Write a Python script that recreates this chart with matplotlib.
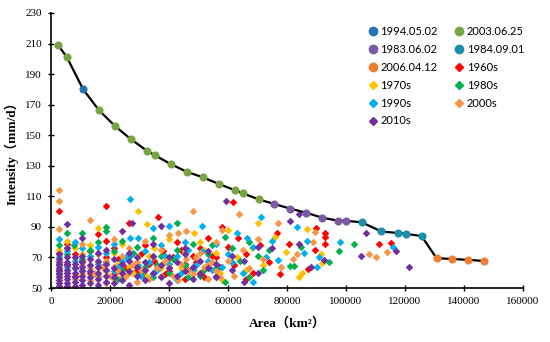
import matplotlib
matplotlib.use("Agg")
import matplotlib.pyplot as plt
from matplotlib.lines import Line2D

# envelope events (area km2, intensity mm/d)
ev_1994_x = [10900]
ev_1994_y = [180]
ev_2003_x = [2400, 5400, 16200, 21700, 27000, 32400, 35100, 40700, 46100, 51400, 57000, 62400, 65000, 70400]
ev_2003_y = [209, 201, 166.5, 156, 147.5, 140, 137, 131, 126, 122.5, 118, 114, 112, 108]
ev_1983_x = [75700, 81000, 86400, 92000, 97400, 100000]
ev_1983_y = [105, 102, 99.3, 96, 94, 94]
ev_1984_x = [105300, 112000, 117500, 120200, 125600]
ev_1984_y = [93, 87, 86, 85.5, 84]
ev_2006_x = [130700, 136000, 141500, 146900]
ev_2006_y = [69.5, 69, 68.4, 67.7]

# decade samples
d1960_x = [2700, 2700, 2700, 5300, 5300, 8000, 8000, 10600, 13300, 13300, 16000, 16000, 18600, 18600, 18600,
           21300, 21300, 24000, 26500, 26500, 29300, 32000, 32000, 36200, 35000, 38000, 40000, 42600, 45300, 45300,
           48000, 50600, 50600, 53300, 53300, 56000, 56000, 58000, 61600, 60000, 63300, 62000, 66000, 66000, 68600,
           71000, 74000, 76500, 77600, 80800, 87200, 89700, 89500, 92900, 92900, 92900, 111300, 115200,
           22600, 25300, 30600, 33300, 38600, 41300, 44000, 46600, 49300, 52000, 54600, 57300]
d1960_y = [100.6, 62, 73, 66, 79, 72, 58, 68, 74, 60, 85.5, 64, 103.7, 70, 81,
           59, 76, 66, 92.4, 71, 62, 78, 57, 96.7, 68, 74, 61, 80, 66, 56,
           71, 76, 60, 64, 83, 58, 70, 90, 106.3, 77, 83, 65, 72, 56, 60,
           78, 67, 85.8, 59, 79, 62.3, 89, 75, 86.2, 83.6, 79, 78.6, 79.7,
           69, 63, 72, 66, 59, 70, 75, 62, 67, 57, 71, 64]

d1970_x = [2700, 2700, 5300, 5300, 8000, 8000, 10600, 10600, 13300, 16000, 16000, 18600, 21300, 21300, 24000,
           26600, 29600, 29600, 32600, 32600, 35000, 37300, 40000, 40000, 42600, 45300, 48500, 48500, 50600, 53300,
           56000, 58000, 60000, 63000, 66000, 70300, 68000, 72000, 76000, 79600, 85000, 86700, 91800, 91400, 84000,
           22600, 27900, 33300, 38600, 44000, 52000, 57300]
d1970_y = [75, 58, 70, 81, 64, 76, 72, 59, 78, 89, 67, 61, 73, 56, 79,
           64, 100.4, 70, 91.6, 58, 76, 63, 82, 69, 57, 74, 85.8, 62, 80, 67,
           73, 55, 88, 70, 62, 92.4, 76, 65, 83.6, 73.8, 60, 88.4, 66.5, 72.3, 57,
           66, 60, 71, 67, 63, 75, 60]

d1980_x = [2700, 2700, 5300, 5300, 7800, 8000, 10600, 10600, 13300, 16000, 16000, 18600, 18600, 18600, 21300,
           24000, 24000, 26600, 29300, 32000, 34600, 34600, 37300, 40000, 42800, 42800, 45300, 48000, 50600, 53300,
           56000, 59000, 59000, 61300, 64000, 67000, 67000, 70000, 72000, 74000, 81000, 82500, 84600, 94200, 97600,
           102700, 22600, 27900, 30600, 36000, 41300, 46600, 52000, 54600]
d1980_y = [78, 66, 85.8, 72, 78.2, 63, 85.8, 69, 75, 58, 80, 90, 87, 67, 74,
           62, 81, 70, 77, 64, 57, 83, 71, 60, 92.8, 75, 65, 79, 58, 72,
           63, 83.6, 54, 76, 68, 57, 80, 71, 62, 75, 64.5, 64.5, 76.8, 67.2, 74.3,
           78.8, 56, 73, 60, 65, 69, 57, 62, 78]

d1990_x = [2700, 2700, 2700, 5300, 5300, 8000, 8000, 10600, 10600, 13300, 16000, 16000, 18600, 21300, 21300,
           24000, 26800, 26800, 26800, 29400, 29400, 32000, 34700, 34700, 37300, 40100, 40100, 42600, 42600, 45300,
           48000, 51100, 51100, 53300, 56000, 56000, 58000, 60000, 63000, 66300, 65000, 68600, 68600, 71200, 73000,
           75000, 77000, 83500, 86900, 85900, 90000, 90800, 98000, 115800,
           22600, 25300, 30600, 33300, 36000, 38600, 44000, 46600, 49300, 54600, 61300]
d1990_y = [82, 70, 60, 74, 64, 80, 68, 76, 62, 71, 77, 66, 73, 79, 61,
           68, 108, 82.6, 72, 82.6, 65, 74, 89, 59, 78, 90.8, 66, 71, 55, 80,
           62, 90.8, 74, 68, 79, 57, 64, 72, 86, 82.6, 60, 53.7, 77, 96.7, 70,
           81, 68.3, 89.8, 80.8, 73.2, 63.6, 70, 80.3, 77,
           64, 70, 58, 67, 62, 71, 60, 75, 65, 62, 67]

d2000_x = [2700, 2700, 2700, 2700, 2700, 5300, 5300, 8000, 8000, 10600, 10600, 13200, 13200, 13200, 16000,
           16000, 18600, 18600, 21300, 21300, 24000, 24000, 26600, 26600, 29300, 29300, 32000, 32000, 34600, 37300,
           37300, 40000, 40000, 43200, 43200, 45800, 45800, 48200, 48200, 50600, 53300, 53300, 56000, 56000, 58000,
           60000, 63800, 62000, 65000, 67000, 70000, 72000, 77000, 78000, 82000, 83300, 88900, 89500, 107900, 110200,
           113800, 22600, 25300, 27900, 30600, 33300, 36000, 38600, 41300, 44000, 46600, 49300, 52000, 54600,
           57300, 14600, 17300, 19900]
d2000_y = [114, 107, 88.4, 67, 55, 77, 60, 70, 56, 65, 79, 94.6, 63, 55, 72,
           57, 68, 53, 82, 64, 71, 57, 60, 76, 67, 54, 81, 62, 70, 58,
           75, 85, 64, 85.8, 55, 87.5, 69, 100.6, 59, 73, 65, 56, 80, 61, 88,
           68, 98.3, 58, 75, 63, 82, 69, 92.8, 64, 69, 72.3, 80.3, 86.9, 72, 70.5,
           73.8, 61, 58, 65, 62, 56, 63, 68, 58, 66, 61, 70, 64, 67,
           57, 60, 64, 58]

d2010_x = [2700, 2700, 2700, 2700, 2700, 2700, 2700, 2700, 2700, 2700, 2700,
           5300, 5300, 5300, 5300, 5300, 5300, 5300, 5300, 5300, 5300, 5300,
           8000, 8000, 8000, 8000, 8000, 8000, 8000,
           10600, 10600, 10600, 10600, 10600, 10600, 10600, 10600,
           13300, 13300, 13300, 13300, 13300,
           16000, 16000, 16000, 16000, 16000, 16000,
           18600, 18600, 18600, 18600, 18600,
           21300, 21300, 21300, 21300, 24000, 24000, 24000, 24000,
           26600, 26600, 26600, 26600, 27600, 29300, 29300, 29300, 32000, 32000, 32000,
           34600, 34600, 34600, 37300, 37300, 37300, 40000, 40000, 40000, 42600, 42600,
           45300, 45300, 45300, 48000, 48000, 50600, 50600, 53300, 53300, 56000, 56000,
           59300, 61300, 61300, 65500, 65500, 70000, 70000, 75000, 81000, 84000, 84000,
           88000, 92500, 105000, 106700, 117000, 121500]
d2010_y = [51, 53, 55, 57, 59, 61, 63, 65, 67, 69, 72,
           51, 53, 56, 58, 60, 62, 65, 67, 70, 76, 91.6,
           51, 54, 57, 60, 63, 66, 70,
           52, 55, 58, 61, 64, 67, 71, 82.6,
           53, 57, 61, 65, 69,
           52, 56, 60, 64, 68, 73,
           54, 58, 62, 66, 75,
           53, 57, 63, 69, 55, 60, 66, 87.3,
           52, 61, 68, 73, 92.8, 58, 64, 70, 55, 62, 67,
           60, 71, 79, 57, 65, 90.6, 53, 63, 70, 58, 67,
           61, 72, 76, 56, 64, 59, 68, 63, 74, 57, 66,
           107, 62, 71, 53.7, 68, 60, 77, 76, 94, 98.5, 79,
           64, 68.3, 71.2, 85.8, 74.5, 64]

serif = ["Liberation Serif", "Noto Sans CJK SC"]

fig = plt.figure(figsize=(5.5, 3.42), dpi=100)
ax = fig.add_axes([51 / 550, 54 / 342, 472 / 550, 275 / 342])

decades = [
    ("1960s", d1960_x, d1960_y, "#ff0000"),
    ("1970s", d1970_x, d1970_y, "#ffc000"),
    ("1980s", d1980_x, d1980_y, "#00b050"),
    ("1990s", d1990_x, d1990_y, "#00b0f0"),
    ("2000s", d2000_x, d2000_y, "#f79646"),
    ("2010s", d2010_x, d2010_y, "#7030a0"),
]
handles = {}
for name, xs, ys, c in decades:
    ax.scatter(xs, ys, s=15, marker="D", color=c, linewidths=0, zorder=2)
    handles[name] = Line2D([], [], ls="none", marker="D", ms=4, color=c)

# envelope line through all event points
env = sorted(zip(ev_1994_x + ev_2003_x + ev_1983_x + ev_1984_x + ev_2006_x,
                 ev_1994_y + ev_2003_y + ev_1983_y + ev_1984_y + ev_2006_y))
ax.plot([p[0] for p in env], [p[1] for p in env], color="black", lw=1.6, zorder=3)

events = [
    ("1994.05.02", ev_1994_x, ev_1994_y, "#2272b4"),
    ("2003.06.25", ev_2003_x, ev_2003_y, "#77a544"),
    ("1983.06.02", ev_1983_x, ev_1983_y, "#7b5aa3"),
    ("1984.09.01", ev_1984_x, ev_1984_y, "#1b8fa6"),
    ("2006.04.12", ev_2006_x, ev_2006_y, "#ed7d31"),
]
for name, xs, ys, c in events:
    ax.scatter(xs, ys, s=34, marker="o", color=c, linewidths=0, zorder=4)
    handles[name] = Line2D([], [], ls="none", marker="o", ms=6, color=c)

order = ["1994.05.02", "1983.06.02", "2006.04.12", "1970s", "1990s", "2010s",
         "2003.06.25", "1984.09.01", "1960s", "1980s", "2000s"]
ax.legend([handles[k] for k in order], order, ncol=2, frameon=False,
          loc="upper left", bbox_to_anchor=(366 / 550, 1 - 26 / 342), bbox_transform=fig.transFigure,
          prop={"family": "Lato", "size": 8}, handletextpad=0.1, handlelength=1.2,
          columnspacing=1.3, labelspacing=0.62, borderaxespad=0, borderpad=0)

ax.set_xlim(0, 160000)
ax.set_ylim(50, 230)
ax.set_xticks(range(0, 160001, 20000))
ax.set_yticks(range(50, 231, 20))
for sp in ["top", "right"]:
    ax.spines[sp].set_visible(False)
for sp in ["left", "bottom"]:
    ax.spines[sp].set_linewidth(1.2)
ax.tick_params(direction="inout", length=5, width=1, labelsize=8, pad=4)
for lab in ax.get_xticklabels() + ax.get_yticklabels():
    lab.set_fontfamily(serif)

ax.set_xlabel("Area（km²）", fontfamily=serif, fontweight="bold", fontsize=9.5, labelpad=8)
ax.set_ylabel("Intensity（mm/d）", fontfamily=serif, fontweight="bold", fontsize=9.5, labelpad=5)

fig.savefig("out.png", dpi=100)
